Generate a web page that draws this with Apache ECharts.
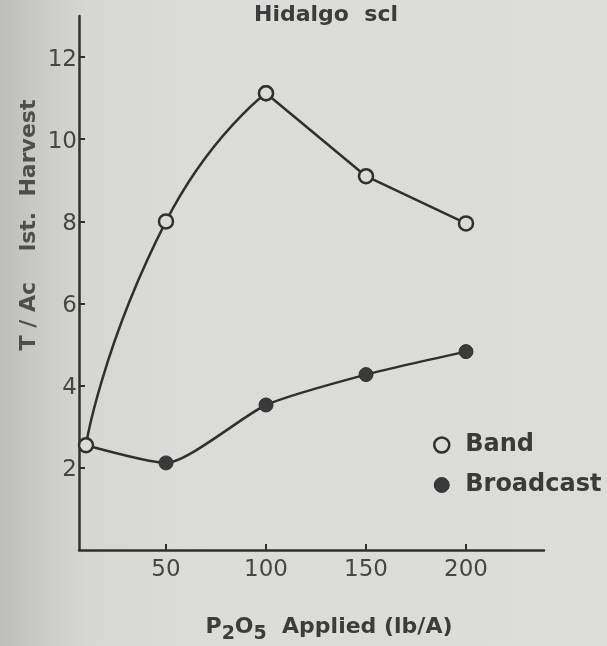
<!DOCTYPE html>
<html>
<head>
<meta charset="utf-8">
<script src="https://cdn.jsdelivr.net/npm/echarts@6/dist/echarts.min.js"></script>
<style>
html,body{margin:0;padding:0;background:#dadad6;}
#chart{width:607px;height:646px;}
</style>
</head>
<body>
<div id="chart"></div>
<script>
// Data
var xValues = [10, 50, 100, 150, 200];
var bandValues = [2.55, 8.0, 11.12, 9.1, 7.95];
var broadcastValues = [2.55, 2.12, 3.53, 4.27, 4.83];
var xTickValues = [50, 100, 150, 200];
var yTickValues = [2, 4, 6, 8, 10, 12];
var titleText = 'Hidalgo  scl';
var yAxisTitle = 'T / Ac    lst.  Harvest';
var seriesNames = ['Band', 'Broadcast'];

var ink = '#303030';
var paper = '#dbdbd7';
var font = 'DejaVu Sans';

function pairs(xs, ys) { return xs.map(function (x, i) { return [x, ys[i]]; }); }
var bandPairs = pairs(xValues, bandValues);
// the hand-drawn Band line is curved up to its peak and straight after it
var bandRising = bandPairs.slice(0, 3);
var bandFalling = bandPairs.slice(2);

var bandItem = {color: paper, borderColor: ink, borderWidth: 2.5};
var broadItem = {color: '#3a3a3a', borderColor: ink, borderWidth: 1};

var chart = echarts.init(document.getElementById('chart'), null, {renderer: 'canvas'});
chart.setOption({
  animation: false,
  backgroundColor: {
    type: 'linear', x: 0, y: 0, x2: 1, y2: 0,
    colorStops: [
      {offset: 0, color: '#bdbdb9'},
      {offset: 0.06, color: '#c9c9c5'},
      {offset: 0.14, color: '#d6d6d2'},
      {offset: 0.3, color: '#dbdbd7'},
      {offset: 1, color: '#dcdcd8'}
    ]
  },
  title: {
    text: titleText,
    left: 321, top: -1, textAlign: 'center',
    textStyle: {fontFamily: font, fontWeight: 'bold', fontSize: 22, color: '#3c3c3c'}
  },
  grid: {left: 79, right: 63, top: 16, bottom: 96, containLabel: false},
  legend: {
    orient: 'vertical', left: 428, top: 428, itemGap: 16,
    itemWidth: 15, itemHeight: 15,
    textStyle: {fontFamily: font, fontWeight: 'bold', fontSize: 24, color: '#3a3a3a', padding: [0, 0, 0, 11]},
    data: [
      {name: seriesNames[0], icon: 'circle', itemStyle: bandItem},
      {name: seriesNames[1], icon: 'circle', itemStyle: broadItem}
    ]
  },
  xAxis: {
    type: 'value', min: 6.5, max: 239,
    axisLine: {lineStyle: {color: ink, width: 2.5}},
    axisTick: {inside: true, length: 6, lineStyle: {color: ink, width: 2}, customValues: xTickValues},
    axisLabel: {customValues: xTickValues, margin: 9, fontFamily: font, fontSize: 23, color: '#464646'},
    splitLine: {show: false}
  },
  yAxis: {
    type: 'value', min: 0, max: 13,
    axisLine: {show: true, lineStyle: {color: ink, width: 2.5}},
    axisTick: {show: true, inside: true, length: 6, lineStyle: {color: ink, width: 2}, customValues: yTickValues},
    axisLabel: {customValues: yTickValues, margin: 2, fontFamily: font, fontSize: 23, color: '#464646', verticalAlign: 'top', padding: [-9, 0, 0, 0]},
    splitLine: {show: false}
  },
  graphic: [
    {
      type: 'text', x: 29, y: 225, rotation: Math.PI / 2,
      style: {text: yAxisTitle, fontFamily: font, fontWeight: 'bold', fontSize: 22, fill: '#4e4e4e', align: 'center', verticalAlign: 'middle'}
    },
    {
      type: 'text', x: 329, y: 627,
      style: {
        text: '{a|P}{s|2}{a|O}{s|5}{a|  Applied (lb/A)}',
        align: 'center', verticalAlign: 'middle',
        rich: {
          a: {fontFamily: font, fontWeight: 'bold', fontSize: 22, fill: '#3c3c3c', color: '#3c3c3c'},
          s: {fontFamily: font, fontWeight: 'bold', fontSize: 19, fill: '#3c3c3c', color: '#3c3c3c', padding: [15, 0, 0, 0]}
        }
      }
    }
  ],
  series: [
    {
      name: seriesNames[0], type: 'line', smooth: 0.6,
      data: bandRising,
      symbol: 'circle', symbolSize: 14,
      lineStyle: {color: ink, width: 2.5},
      itemStyle: bandItem,
      z: 3
    },
    {
      name: seriesNames[0], type: 'line', smooth: false,
      data: bandFalling,
      symbol: 'circle', symbolSize: 14,
      lineStyle: {color: ink, width: 2.5},
      itemStyle: bandItem,
      z: 3
    },
    {
      name: seriesNames[1], type: 'line', smooth: 0.2,
      data: pairs(xValues, broadcastValues),
      symbol: 'circle', symbolSize: 14,
      lineStyle: {color: ink, width: 2.5},
      itemStyle: broadItem,
      z: 2
    }
  ]
});
</script>
</body>
</html>
